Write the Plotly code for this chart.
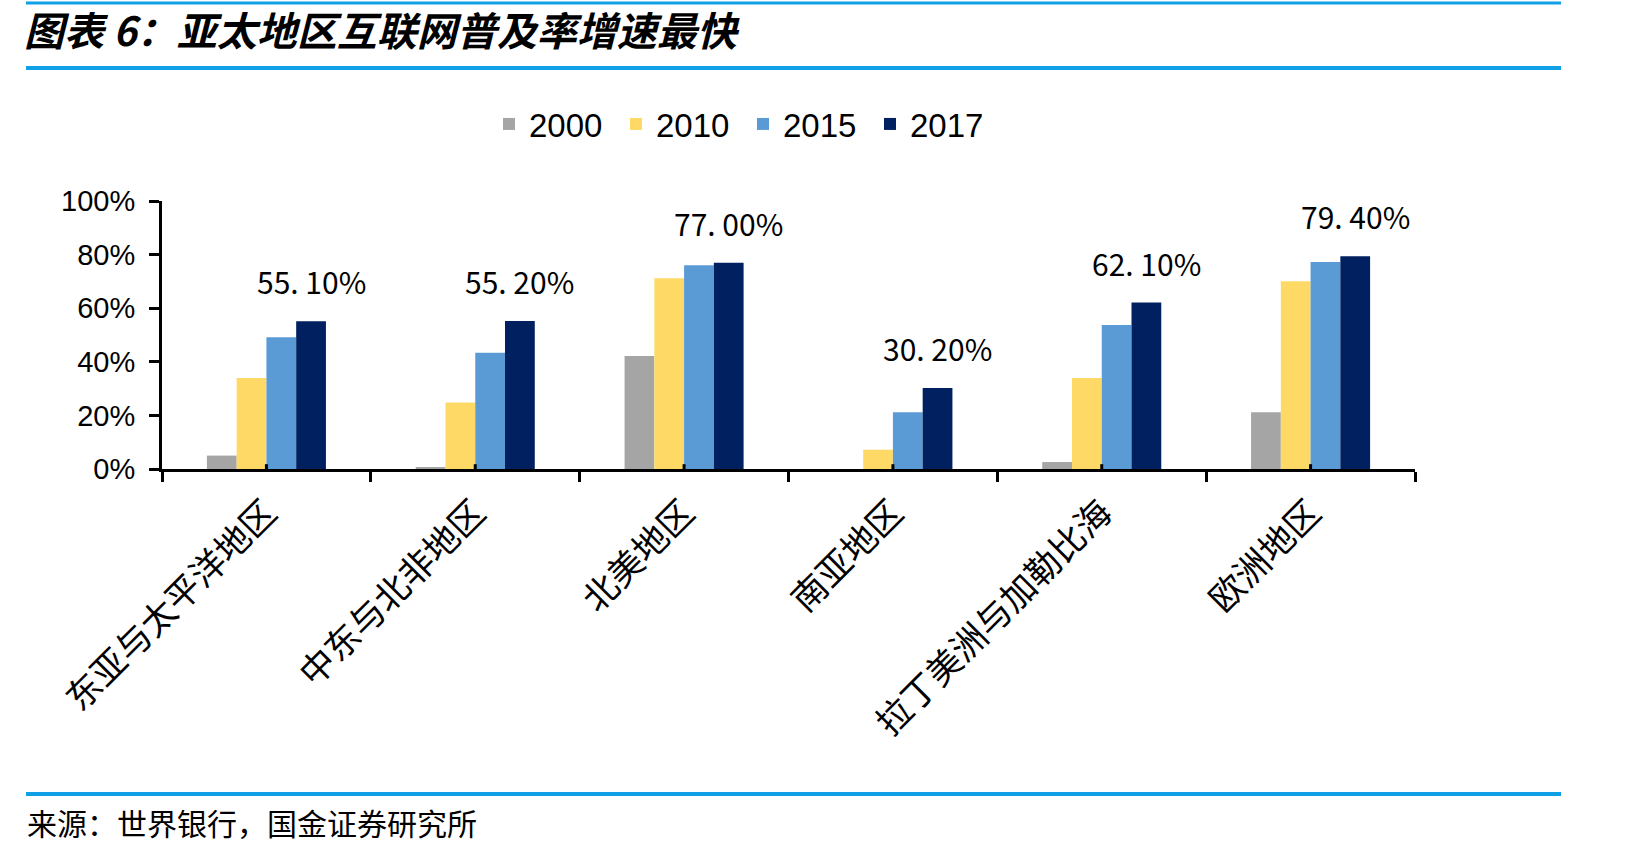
import plotly.graph_objects as go

categories = ["东亚与太平洋地区", "中东与北非地区", "北美地区", "南亚地区", "拉丁美洲与加勒比海", "欧洲地区"]
years = ["2000", "2010", "2015", "2017"]
v2000 = [5.0, 0.5, 42.2, 0.0, 2.6, 21.2]
v2010 = [34.0, 24.8, 71.2, 7.2, 34.0, 70.1]
v2015 = [49.2, 43.4, 76.0, 21.2, 53.7, 77.2]
v2017 = [55.1, 55.2, 77.0, 30.2, 62.1, 79.4]
colors = ["#A5A5A5", "#FFD966", "#5B9BD5", "#002060"]
y_ticks = [0, 20, 40, 60, 80, 100]
y_tick_labels = ["0%", "20%", "40%", "60%", "80%", "100%"]

title_text = "图表 6：亚太地区互联网普及率增速最快"
source_text = "来源：世界银行，国金证券研究所"

W, H = 1642, 853
ML, MR, MT, MB = 162, 227, 201, 384
PW = W - ML - MR
PH = H - MT - MB

def px_x(p):
    return (p - ML) / PW

def px_y(p):
    return (H - MB - p) / PH

fig = go.Figure()
for name, vals, col in zip(years, [v2000, v2010, v2015, v2017], colors):
    fig.add_trace(go.Bar(name=name, x=categories, y=vals, marker=dict(color=col, line=dict(width=0))))

bargap = 0.43
cat_px = PW / len(categories)
bar_px = cat_px * (1 - bargap) / 4
shift_2017 = 1.5 * bar_px

annotations = []
for c, v in zip(categories, v2017):
    annotations.append(dict(
        x=c, y=v, xref="x", yref="y", text=f"{v:.2f}%".replace(".", ". "),
        showarrow=False, xshift=shift_2017, yshift=40, yanchor="middle", xanchor="center",
        font=dict(family="Noto Sans CJK SC", size=30, color="#000000")))

annotations.append(dict(
    x=px_x(25), y=px_y(822), xref="paper", yref="paper", text=source_text,
    showarrow=False, xanchor="left", yanchor="middle",
    font=dict(family="Noto Sans CJK SC", size=30, color="#000000")))

annotations.append(dict(
    x=px_x(22), y=px_y(29), xref="paper", yref="paper", text=title_text,
    showarrow=False, xanchor="left", yanchor="middle",
    font=dict(family="Noto Sans CJK SC", size=40, color="#000000",
              weight="bold", style="italic")))

shapes = []
for py, w in [(3, 3), (68, 4), (794, 4)]:
    shapes.append(dict(type="line", xref="paper", yref="paper",
                       x0=px_x(26), x1=px_x(1561), y0=px_y(py), y1=px_y(py),
                       line=dict(color="#0FA0E6", width=w)))
for c in categories:
    shapes.append(dict(type="line", xref="x", yref="y", x0=c, x1=c, y0=0, y1=1.8,
                       line=dict(color="#000000", width=3), layer="above"))

fig.update_layout(
    width=W, height=H, autosize=False,
    margin=dict(l=ML, r=MR, t=MT, b=MB),
    paper_bgcolor="#FFFFFF", plot_bgcolor="#FFFFFF",
    barmode="group", bargap=bargap, bargroupgap=0,
    legend=dict(orientation="h", xref="container", yref="container",
                x=489 / W, y=1 - 124 / H, xanchor="left", yanchor="middle",
                font=dict(family="Liberation Sans", size=33, color="#000000"),
                entrywidth=82, itemwidth=30, bgcolor="rgba(0,0,0,0)"),
    xaxis=dict(type="category", showline=True, linecolor="#000000", linewidth=3,
               ticks="outside", tickson="boundaries", ticklen=10, tickwidth=3, tickcolor="#000000",
               tickangle=-45, tickfont=dict(family="Noto Sans CJK SC", size=35, color="#000000"),
               showgrid=False, zeroline=False, ticklabelstandoff=6),
    yaxis=dict(range=[0, 100], tickvals=y_ticks, ticktext=y_tick_labels, showline=True,
               linecolor="#000000", linewidth=3, ticks="outside", ticklen=10, tickwidth=3,
               tickcolor="#000000", showgrid=False, zeroline=False, ticklabelstandoff=8,
               tickfont=dict(family="Liberation Sans", size=29, color="#000000")),
    annotations=annotations,
    shapes=shapes,
    showlegend=True,
)

fig.write_html("out.html")
